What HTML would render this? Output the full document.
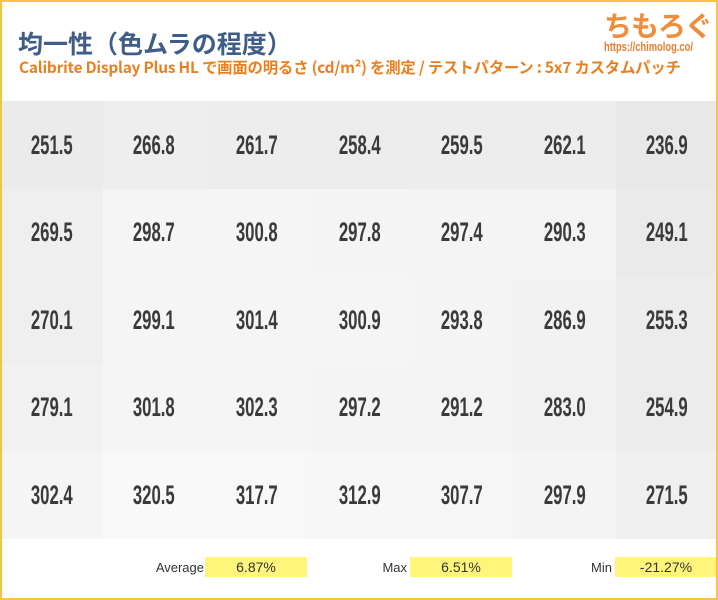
<!DOCTYPE html>
<html><head><meta charset="utf-8"><style>
*{margin:0;padding:0;box-sizing:border-box}
body{width:718px;height:600px;overflow:hidden;background:#fff;font-family:"Liberation Sans","Noto Sans CJK JP",sans-serif;position:relative}
.frame{position:absolute;left:0;top:0;width:718px;height:600px;border:2px solid #f7c344;z-index:5;pointer-events:none}
.title{position:absolute;left:18px;top:25px;font-size:25px;font-weight:bold;color:#3f5d86;font-family:"Noto Sans CJK JP",sans-serif}
.sub{position:absolute;left:19px;top:56px;font-size:15.4px;font-weight:bold;color:#e8801f;font-family:"Noto Sans CJK JP",sans-serif;white-space:nowrap;letter-spacing:-0.2px}
.logo{position:absolute;left:604px;top:5px;font-size:28px;font-weight:bold;color:#f08c3a;font-family:"Noto Sans CJK JP",sans-serif;letter-spacing:-1px}
.url{position:absolute;left:604px;top:39px;font-size:13px;font-weight:bold;color:#e08030;transform:scaleX(0.72);transform-origin:left;white-space:nowrap}
.cell{position:absolute;height:88px;width:103px;display:flex;align-items:center;justify-content:center}
.cell span{font-size:27px;font-weight:bold;color:#3a3a3a;transform:scaleX(0.62);display:inline-block}
.lab{position:absolute;top:560px;font-size:13px;color:#333;text-align:right;width:80px}
.box{position:absolute;top:557px;height:20px;width:102px;background:#fff57a;font-size:14px;color:#333;text-align:center;line-height:21px}
</style></head><body>
<div class="frame"></div>
<div class="title">均一性（色ムラの程度）</div>
<div class="sub">Calibrite Display Plus HL で画面の明るさ (cd/m²) を測定 / テストパターン : 5x7 カスタムパッチ</div>
<div class="logo">ちもろぐ</div>
<div class="url">https://chimolog.co/</div>
<div id="g"></div>
<div class="lab" style="left:124px">Average</div><div class="box" style="left:205px">6.87%</div>
<div class="lab" style="left:327px">Max</div><div class="box" style="left:410px">6.51%</div>
<div class="lab" style="left:532px">Min</div><div class="box" style="left:615px">-21.27%</div>
<script>
var d=[[251.5,266.8,261.7,258.4,259.5,262.1,236.9],[269.5,298.7,300.8,297.8,297.4,290.3,249.1],[270.1,299.1,301.4,300.9,293.8,286.9,255.3],[279.1,301.8,302.3,297.2,291.2,283.0,254.9],[302.4,320.5,317.7,312.9,307.7,297.9,271.5]];
var h='';
for(var r=0;r<5;r++)for(var c=0;c<7;c++){var v=d[r][c];var g=Math.round(232+(v-236.9)/(320.5-236.9)*17);
h+='<div class="cell" style="left:'+(c*102.6)+'px;top:'+(101+r*87.6)+'px;background:rgb('+g+','+g+','+g+')"><span>'+v.toFixed(1)+'</span></div>';}
document.getElementById('g').innerHTML=h;
</script>
</body></html>
